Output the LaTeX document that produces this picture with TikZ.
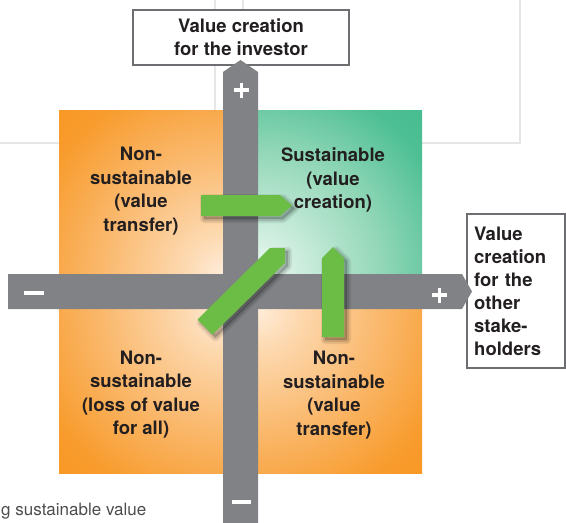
\documentclass[tikz,border=0pt]{standalone}
\usepackage{fontspec}
\setmainfont{TeX Gyre Heros}
\definecolor{orfull}{HTML}{F7941D}
\definecolor{orsat}{HTML}{F89C2E}
\definecolor{ormid}{HTML}{FAB96E}
\definecolor{orlight}{HTML}{FDD9B0}
\definecolor{orcream}{HTML}{FFEDDA}
\definecolor{grfull}{HTML}{3FBA8C}
\definecolor{grsat}{HTML}{4DBF94}
\definecolor{grmid}{HTML}{95D8B9}
\definecolor{grlight}{HTML}{CFEEDF}
\definecolor{grcream}{HTML}{EEF9F4}
\definecolor{bargrey}{HTML}{808285}
\definecolor{boxgrey}{HTML}{6D6E71}
\definecolor{arrowgreen}{HTML}{6CBD45}
\definecolor{txt}{HTML}{231F20}
\definecolor{faint}{HTML}{E6E6E7}
\definecolor{bodytxt}{HTML}{4D4D4F}
\pgfdeclareradialshading{qor}{\pgfpoint{0bp}{0bp}}{color(0bp)=(orcream); color(4bp)=(orlight); color(12bp)=(ormid); color(20bp)=(orsat); color(27bp)=(orfull); color(50bp)=(orfull)}
\pgfdeclareradialshading{qgr}{\pgfpoint{0bp}{0bp}}{color(0bp)=(grcream); color(4bp)=(grlight); color(12bp)=(grmid); color(20bp)=(grsat); color(28bp)=(grfull); color(50bp)=(grfull)}
\begin{document}
\begin{tikzpicture}[x=1pt,y=-1pt,
  qtext/.style={text=txt, align=center, font=\fontsize{18.5}{23.5}\selectfont\bfseries, inner sep=0pt},
  labelbox/.style={draw=boxgrey, line width=2.4pt, fill=white, text=txt, font=\fontsize{18.5}{23}\selectfont\bfseries},
  garrow/.style={fill=arrowgreen,
    preaction={draw=black, line width=8pt, line join=round, opacity=0.08, transform canvas={shift={(3pt,-3pt)}}},
    preaction={draw=black, line width=4pt, line join=round, opacity=0.12, transform canvas={shift={(3pt,-3pt)}}},
    preaction={fill=black, opacity=0.2, transform canvas={shift={(3pt,-3pt)}}}},
  sign/.style={draw=white, line width=3.5pt},
  faintline/.style={draw=faint, line width=1.5pt}]
\useasboundingbox (0,0) rectangle (566,523);
\clip (0,0) rectangle (566,523);
% faint background lines
\draw[faintline] (215,0) -- (215,110);
\draw[faintline] (243,0) -- (243,110);
\draw[faintline] (520,0) -- (520,143) -- (422,143);
\draw[faintline] (0,143) -- (59,143);
% quadrants
\begin{scope}\clip (59,110) rectangle (240,292);
  \shade[shading=qor] (224,274) circle (250pt);\end{scope}
\begin{scope}\clip (240,110) rectangle (422,292);
  \shade[shading=qgr] (258,274) circle (250pt);\end{scope}
\begin{scope}\clip (59,292) rectangle (240,473);
  \shade[shading=qor] (224,309) circle (250pt);\end{scope}
\begin{scope}\clip (240,292) rectangle (422,473);
  \shade[shading=qor] (258,309) circle (250pt);\end{scope}
% label boxes
\node[labelbox, minimum width=216pt, minimum height=55pt, align=center] (investor) at (241,37.5) {Value creation\\for the investor};
\node[labelbox, anchor=north west, text width=84pt, minimum height=154pt, inner xsep=7pt, align=left] (stake) at (466,213) {Value\\creation\\for the\\other\\stake-\\holders};
% axes bars
\fill[bargrey] (223,540) -- (223,72) -- (240.5,60) -- (258,72) -- (258,540) -- cycle;
\fill[bargrey] (8,274) -- (462,274) -- (472,291.5) -- (462,309) -- (8,309) -- cycle;
\coordinate (plusv) at (241.5,90);
\coordinate (plush) at (439.5,295);
\coordinate (minush) at (34,293);
\coordinate (minusv) at (241.5,502);
\draw[sign] ([xshift=-7.5pt]plusv) -- ([xshift=7.5pt]plusv);
\draw[sign] ([yshift=-7.5pt]plusv) -- ([yshift=7.5pt]plusv);
\draw[sign] ([xshift=-7.5pt]plush) -- ([xshift=7.5pt]plush);
\draw[sign] ([yshift=-7.5pt]plush) -- ([yshift=7.5pt]plush);
\draw[sign] ([xshift=-10pt]minush) -- ([xshift=10pt]minush);
\draw[sign] ([xshift=-9.5pt]minusv) -- ([xshift=9.5pt]minusv);
% green arrows
\fill[garrow] (201,195) -- (280,195) -- (292,205.5) -- (280,216) -- (201,216) -- cycle;
\fill[garrow] (322,337) -- (322,258) -- (333,247) -- (344,258) -- (344,337) -- cycle;
\fill[garrow] (197.5,319.5) -- (270,248) -- (285,248) -- (285,263) -- (212.5,334.5) -- cycle;
% quadrant texts
\node[qtext] (tl) at (141,191) {Non-\\sustainable\\(value\\transfer)};
\node[qtext] (tr) at (333,180) {Sustainable\\(value\\creation)};
\node[qtext] (bl) at (141,394.5) {Non-\\sustainable\\(loss of value\\for all)};
\node[qtext] (br) at (334,395) {Non-\\sustainable\\(value\\transfer)};
% body text fragment
\node[anchor=base west, inner sep=0pt, text=bodytxt, font=\fontsize{17}{20}\selectfont] (body) at (1,515) {g sustainable value};
\end{tikzpicture}
\end{document}
